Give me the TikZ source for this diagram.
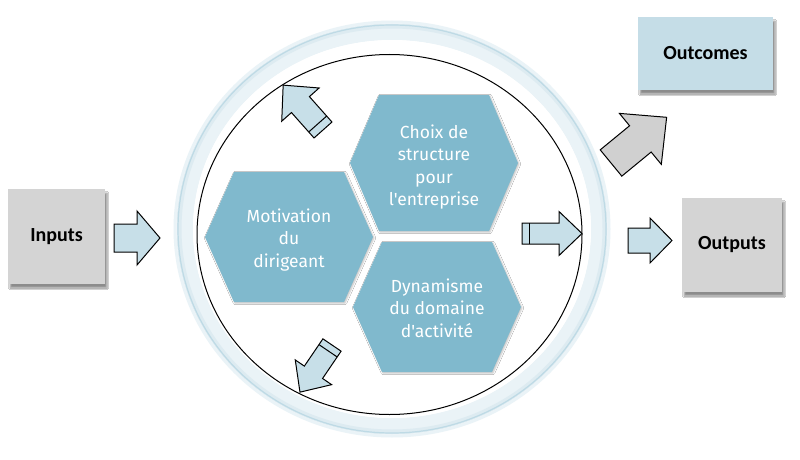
\documentclass[tikz,border=0pt]{standalone}
\usepackage{fontspec}
\newfontfamily\boxfont{Carlito}
\newfontfamily\hexfont{Fira Sans}
\usetikzlibrary{shadows.blur}
\definecolor{hexblue}{HTML}{80B9CD}
\definecolor{arrowblue}{HTML}{C7DFE8}
\definecolor{outblue}{HTML}{C5DDE7}
\definecolor{boxgray}{HTML}{D4D4D4}
\definecolor{arrowgray}{HTML}{D0D0D0}
\definecolor{ringblue}{HTML}{B3D3E0}
\definecolor{ringlight}{HTML}{EAF3F7}
\newcommand\hexpath[3]{(#1-84,#2) -- (#1-55,#2-#3) -- (#1+55,#2-#3) -- (#1+84,#2) -- (#1+55,#2+#3) -- (#1-55,#2+#3) -- cycle}
% tail x, tail y, rotate, length, body half, head half, head length, style
\newcommand\barrow[8]{\draw[#8,shift={(#1,#2)},rotate=#3] (0,-#5) -- (#4-#7,-#5) -- (#4-#7,-#6) -- (#4,0) -- (#4-#7,#6) -- (#4-#7,#5) -- (0,#5) -- cycle;}
\newcommand\bstripe[6]{\draw[arrowline,shift={(#1,#2)},rotate=#3] (#4,-#5) -- (#4,#5);}
\begin{document}
\begin{tikzpicture}[x=1pt,y=-1pt,
  arrowline/.style={draw=black,line width=1pt,line join=miter},
  bluearrow/.style={arrowline,fill=arrowblue},
  grayarrow/.style={arrowline,fill=arrowgray},
  boxshadow/.style={blur shadow={shadow xshift=2pt,shadow yshift=-4pt,shadow blur steps=6,shadow opacity=45}},
  graybox/.style={fill=boxgray,boxshadow,font=\boxfont\bfseries\fontsize{20}{24}\selectfont,inner sep=0pt},
  bluebox/.style={fill=outblue,boxshadow,font=\boxfont\bfseries\fontsize{20}{24}\selectfont,inner sep=0pt},
  hexfill/.style={fill=hexblue,blur shadow={shadow xshift=1pt,shadow yshift=-1pt,shadow blur steps=4,shadow opacity=25}},
  hextext/.style={align=center,text=white,font=\hexfont\fontsize{17.5}{22.5}\selectfont}
]
\useasboundingbox (0,0) rectangle (800,460);
\fill[white] (0,0) rectangle (800,460);

% outer ring
\draw[ringlight,line width=16pt] (392,229) ellipse [x radius=207pt, y radius=197pt];
\draw[ringblue!45,line width=5pt] (392,229) ellipse [x radius=213pt, y radius=203pt];
\draw[ringblue!85,line width=1.2pt] (392,229) ellipse [x radius=214pt, y radius=204pt];
\draw[ringlight,line width=3pt] (392,229) ellipse [x radius=217pt, y radius=207pt];
\fill[white] (392,229) ellipse [x radius=199pt, y radius=189pt];
% inner black circle
\draw[black,line width=1pt] (389.5,234.5) ellipse [x radius=192.5pt, y radius=180pt];

% hexagons
\fill[hexfill] \hexpath{289}{237}{65};
\fill[hexfill] \hexpath{434}{163}{68};
\fill[hexfill] \hexpath{437}{307}{65};
\node[hextext] (mot) at (289,240) {Motivation\\du\\dirigeant};
\node[hextext] (choix) at (434,167) {Choix de\\structure\\pour\\l'entreprise};
\node[hextext] (dyn) at (437,308) {Dynamisme\\du domaine\\d'activité};

% boxes
\node[graybox,minimum width=97pt,minimum height=95pt] (inputs) at (56.5,236.5) {Inputs};
\node[graybox,minimum width=100pt,minimum height=94pt] (outputs) at (732,245) {Outputs};
\node[bluebox,minimum width=135pt,minimum height=73pt] (outcomes) at (705.5,53.5) {Outcomes};

% arrows
\barrow{114}{238}{0}{46}{14}{27}{23}{bluearrow}
\barrow{628}{240.5}{0}{44}{12.5}{22.5}{22}{bluearrow}
\barrow{522}{233.5}{0}{60}{10.5}{22}{23}{bluearrow}
\bstripe{522}{233.5}{0}{7}{10.5}{}
\barrow{323}{130}{131.6}{60}{12}{25}{26}{bluearrow}
\bstripe{323}{130}{131.6}{8}{12}{}
\barrow{332}{345}{-124.2}{57}{11}{22}{24}{bluearrow}
\bstripe{332}{345}{-124.2}{7}{11}{}
\barrow{611}{163}{39.4}{72}{17}{33}{34}{grayarrow}
\end{tikzpicture}
\end{document}
